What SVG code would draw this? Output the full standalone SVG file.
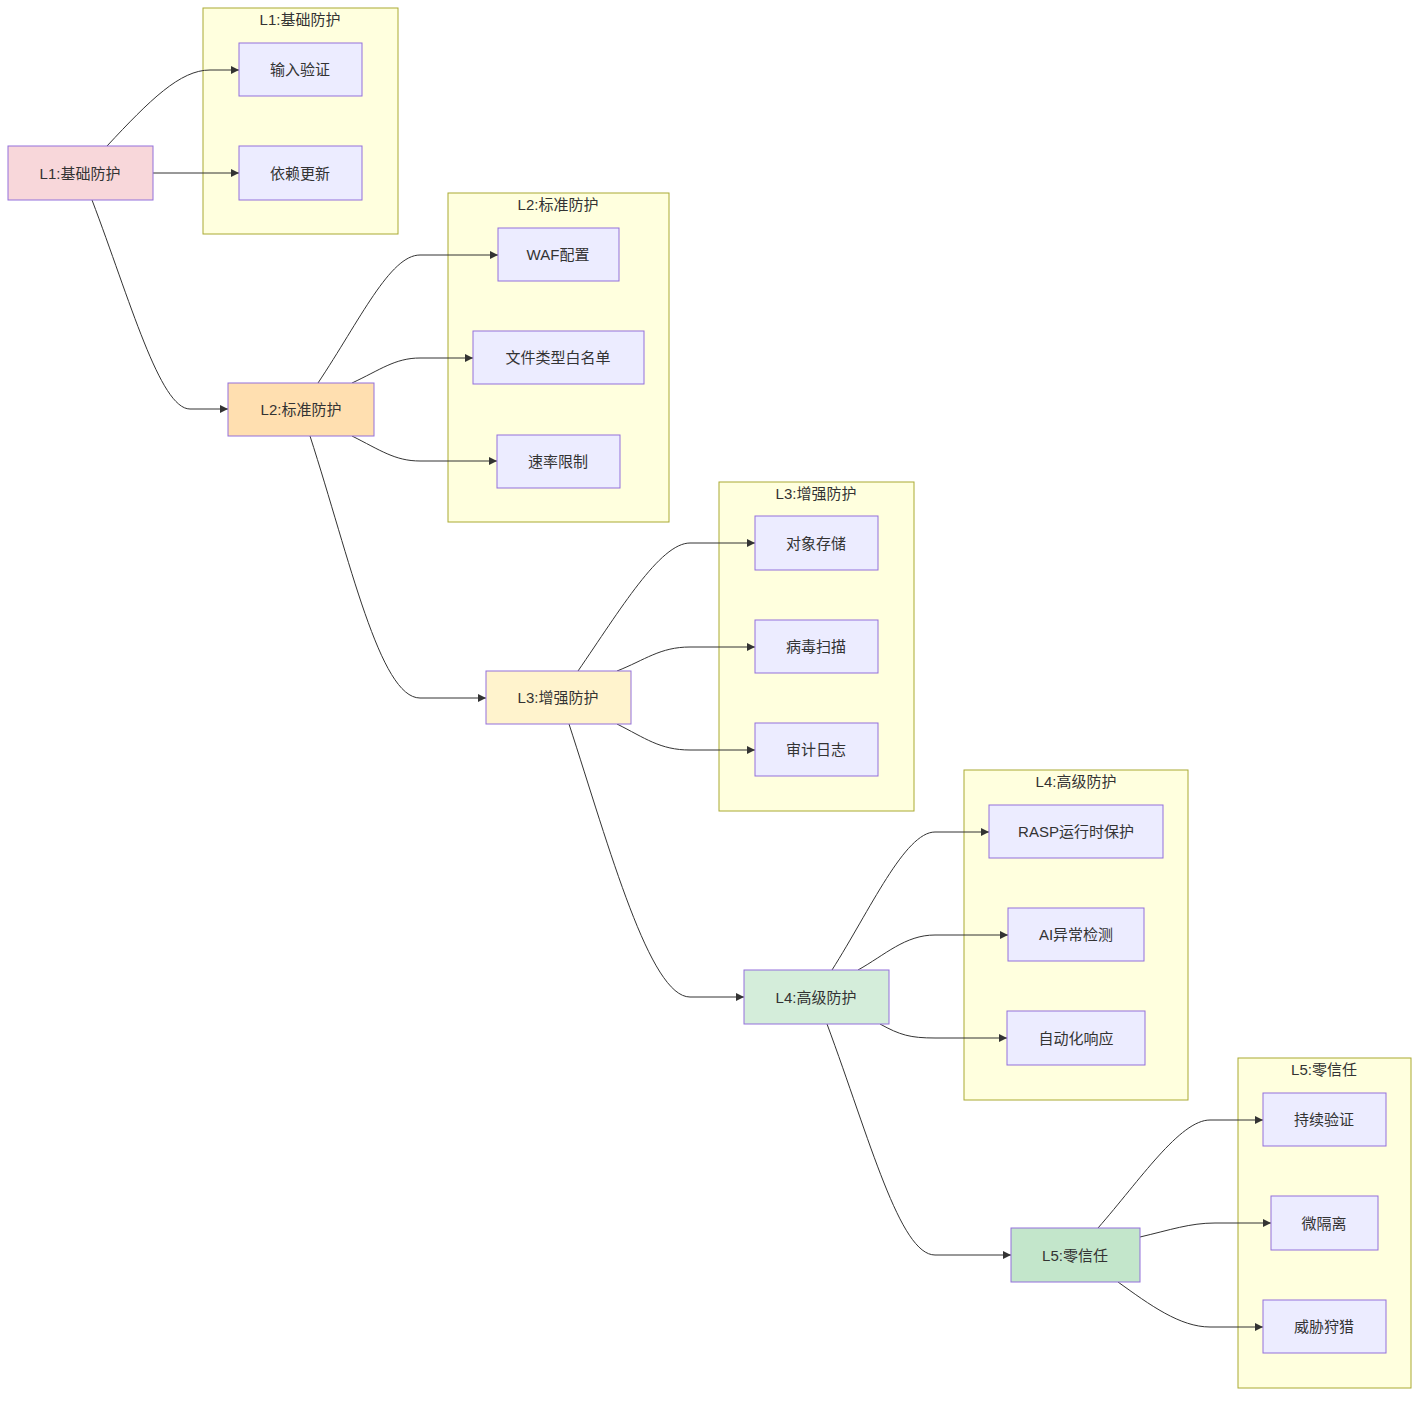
<svg xmlns="http://www.w3.org/2000/svg" width="1427" height="1404" viewBox="0 0 1427 1404">
<defs>
<style>
text{font-family:"Liberation Sans","Noto Sans CJK SC",sans-serif;font-size:15px;fill:#333;text-anchor:middle;dominant-baseline:central}
.cl{fill:#ffffde;stroke:#aaaa33;stroke-width:1}
.n{fill:#ececff;stroke:#9370db;stroke-width:1}
.e{fill:none;stroke:#333;stroke-width:1;marker-end:url(#a)}
</style>
<marker id="a" viewBox="0 0 10 10" refX="10" refY="5" markerWidth="8" markerHeight="8" orient="auto"><path d="M0,0L10,5L0,10z" fill="#333"/></marker>
</defs>
<rect width="1427" height="1404" fill="#fff"/>
<g id="c1"><rect class="cl" x="203" y="8" width="195" height="226"/><text x="300" y="19">L1:基础防护</text></g>
<g id="c2"><rect class="cl" x="448" y="193" width="221" height="329"/><text x="558" y="204">L2:标准防护</text></g>
<g id="c3"><rect class="cl" x="719" y="482" width="195" height="329"/><text x="816" y="493">L3:增强防护</text></g>
<g id="c4"><rect class="cl" x="964" y="770" width="224" height="330"/><text x="1076" y="781">L4:高级防护</text></g>
<g id="c5"><rect class="cl" x="1238" y="1058" width="173" height="330"/><text x="1324" y="1069">L5:零信任</text></g>
<g id="edges">
<path class="e" d="M107,146 C150,100 180,70 210,70 L239,70"/>
<path class="e" d="M153,173 L239,173"/>
<path class="e" d="M92,200 C130,300 160,409 190,409 L228,409"/>
<path class="e" d="M318,383 C360,320 390,255 420,255 L498,255"/>
<path class="e" d="M352,383 C380,370 395,358 420,358 L473,358"/>
<path class="e" d="M352,436 C380,450 395,461 420,461 L497,461"/>
<path class="e" d="M310,436 C350,560 380,698 420,698 L486,698"/>
<path class="e" d="M578,671 C620,610 660,543 690,543 L755,543"/>
<path class="e" d="M617,671 C645,660 660,647 690,647 L755,647"/>
<path class="e" d="M617,724 C645,738 660,750 690,750 L755,750"/>
<path class="e" d="M569,724 C610,850 650,997 690,997 L744,997"/>
<path class="e" d="M832,970 C870,910 905,832 935,832 L989,832"/>
<path class="e" d="M858,970 C885,955 905,935 935,935 L1008,935"/>
<path class="e" d="M880,1024 C900,1035 910,1038 935,1038 L1007,1038"/>
<path class="e" d="M827,1024 C870,1140 900,1255 935,1255 L1011,1255"/>
<path class="e" d="M1098,1228 C1140,1180 1180,1120 1210,1120 L1263,1120"/>
<path class="e" d="M1140,1237 C1170,1230 1190,1223 1215,1223 L1271,1223"/>
<path class="e" d="M1118,1282 C1150,1305 1180,1327 1210,1327 L1263,1327"/>
</g>
<g id="L1"><rect class="n" x="8" y="146" width="145" height="54" fill="#f8d7da" style="fill:#f8d7da"/><text x="80" y="173">L1:基础防护</text></g>
<g id="L2"><rect class="n" x="228" y="383" width="146" height="53" style="fill:#ffdfb0"/><text x="301" y="409">L2:标准防护</text></g>
<g id="L3"><rect class="n" x="486" y="671" width="145" height="53" style="fill:#fff3cd"/><text x="558" y="697">L3:增强防护</text></g>
<g id="L4"><rect class="n" x="744" y="970" width="145" height="54" style="fill:#d4edda"/><text x="816" y="997">L4:高级防护</text></g>
<g id="L5"><rect class="n" x="1011" y="1228" width="129" height="54" style="fill:#c3e6cb"/><text x="1075" y="1255">L5:零信任</text></g>
<g id="n1"><rect class="n" x="239" y="43" width="123" height="53"/><text x="300" y="69">输入验证</text></g>
<g id="n2"><rect class="n" x="239" y="146" width="123" height="54"/><text x="300" y="173">依赖更新</text></g>
<g id="n3"><rect class="n" x="498" y="228" width="121" height="53"/><text x="558" y="254">WAF配置</text></g>
<g id="n4"><rect class="n" x="473" y="331" width="171" height="53"/><text x="558" y="357">文件类型白名单</text></g>
<g id="n5"><rect class="n" x="497" y="435" width="123" height="53"/><text x="558" y="461">速率限制</text></g>
<g id="n6"><rect class="n" x="755" y="516" width="123" height="54"/><text x="816" y="543">对象存储</text></g>
<g id="n7"><rect class="n" x="755" y="620" width="123" height="53"/><text x="816" y="646">病毒扫描</text></g>
<g id="n8"><rect class="n" x="755" y="723" width="123" height="53"/><text x="816" y="749">审计日志</text></g>
<g id="n9"><rect class="n" x="989" y="805" width="174" height="53"/><text x="1076" y="831">RASP运行时保护</text></g>
<g id="n10"><rect class="n" x="1008" y="908" width="136" height="53"/><text x="1076" y="934">AI异常检测</text></g>
<g id="n11"><rect class="n" x="1007" y="1011" width="138" height="54"/><text x="1076" y="1038">自动化响应</text></g>
<g id="n12"><rect class="n" x="1263" y="1093" width="123" height="53"/><text x="1324" y="1119">持续验证</text></g>
<g id="n13"><rect class="n" x="1271" y="1196" width="107" height="54"/><text x="1324" y="1223">微隔离</text></g>
<g id="n14"><rect class="n" x="1263" y="1300" width="123" height="53"/><text x="1324" y="1326">威胁狩猎</text></g>
</svg>
